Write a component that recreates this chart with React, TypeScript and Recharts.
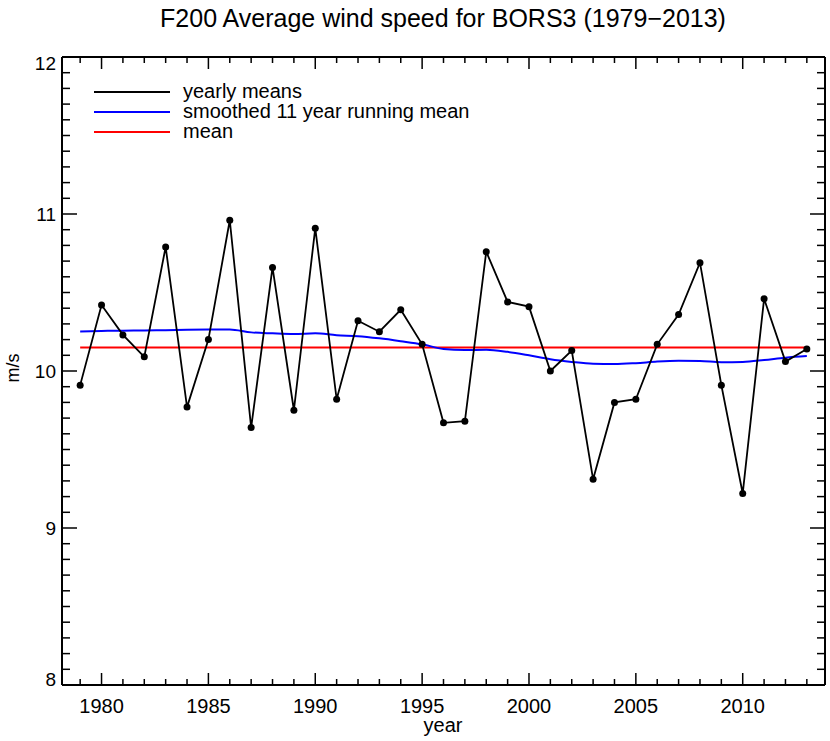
import React from "react"
import { LineChart, Line, XAxis, YAxis } from "recharts"

const years = [
  1979, 1980, 1981, 1982, 1983, 1984, 1985, 1986, 1987, 1988, 1989, 1990, 1991, 1992, 1993, 1994, 1995,
  1996, 1997, 1998, 1999, 2000, 2001, 2002, 2003, 2004, 2005, 2006, 2007, 2008, 2009, 2010, 2011, 2012, 2013,
]

const yearlyMeans = [
  9.91, 10.42, 10.23, 10.09, 10.79, 9.77, 10.2, 10.96, 9.64, 10.66, 9.75, 10.91, 9.82, 10.32, 10.25, 10.39,
  10.17, 9.67, 9.68, 10.76, 10.44, 10.41, 10.0, 10.13, 9.31, 9.8, 9.82, 10.17, 10.36, 10.69, 9.91, 9.22,
  10.46, 10.06, 10.14,
]

const smoothed = [
  10.252, 10.255, 10.257, 10.258, 10.26, 10.262, 10.264, 10.265, 10.246, 10.24, 10.236, 10.24, 10.228,
  10.222, 10.208, 10.19, 10.17, 10.14, 10.133, 10.135, 10.122, 10.1, 10.075, 10.058, 10.046, 10.044, 10.05,
  10.06, 10.065, 10.064, 10.056, 10.058, 10.07, 10.085, 10.095,
]

const overallMean = 10.15

const xMajorTicks = [1980, 1985, 1990, 1995, 2000, 2005, 2010]
const yMajorTicks = [8, 9, 10, 11, 12]

const legendItems = [
  { label: "yearly means", color: "#000000" },
  { label: "smoothed 11 year running mean", color: "#0000ff" },
  { label: "mean", color: "#ff0000" },
]

const data = years.map((year, i) => ({
  year,
  yearly: yearlyMeans[i],
  smoothed: smoothed[i],
  mean: overallMean,
}))

// minor ticks: every year on x, every 0.1 on y
const xTicks = years
const yTicks: number[] = []
for (let i = 0; i <= 40; i++) yTicks.push(Math.round((8 + i * 0.1) * 10) / 10)

const FONT = "'Liberation Sans', Arial, Helvetica, sans-serif"

const isMajorX = (v: number) => xMajorTicks.includes(v)
const isMajorY = (v: number) => yMajorTicks.includes(v)

const BottomTick = ({ x, y, payload }: any) => {
  const major = isMajorX(payload.value)
  return (
    <g>
      <line x1={x} y1={y} x2={x} y2={y - (major ? 12 : 6)} stroke="#000" strokeWidth={1.5} />
      {major && (
        <text x={x} y={y + 28} textAnchor="middle" fontSize={20} fontFamily={FONT} fill="#000">
          {payload.value}
        </text>
      )}
    </g>
  )
}

const TopTick = ({ x, y, payload }: any) => {
  const major = isMajorX(payload.value)
  return <line x1={x} y1={y} x2={x} y2={y + (major ? 12 : 6)} stroke="#000" strokeWidth={1.5} />
}

const LeftTick = ({ x, y, payload }: any) => {
  const v = payload.value
  const major = isMajorY(v)
  // end labels are nudged inside the axis span, like the original
  const dy = v === 12 ? 13 : v === 8 ? 1 : 7
  return (
    <g>
      <line x1={x} y1={y} x2={x + (major ? 15 : 8)} y2={y} stroke="#000" strokeWidth={1.5} />
      {major && (
        <text x={x - 6} y={y + dy} textAnchor="end" fontSize={19} fontFamily={FONT} fill="#000">
          {v}
        </text>
      )}
    </g>
  )
}

const RightTick = ({ x, y, payload }: any) => {
  const major = isMajorY(payload.value)
  return <line x1={x} y1={y} x2={x - (major ? 15 : 8)} y2={y} stroke="#000" strokeWidth={1.5} />
}

export default function App() {
  return (
    <div style={{ position: "absolute", left: 0, top: 0, width: 830, height: 741, background: "#fff" }}>
      <LineChart width={830} height={741} data={data} margin={{ top: 0, right: 0, bottom: 0, left: 0 }}>
        <XAxis
          xAxisId="bottom"
          dataKey="year"
          type="number"
          domain={[1978.15, 2013.85]}
          allowDataOverflow
          ticks={xTicks}
          interval={0}
          height={56}
          tickSize={0}
          tickMargin={0}
          tickLine={false}
          tick={<BottomTick />}
          axisLine={{ stroke: "#000", strokeWidth: 2 }}
        />
        <XAxis
          xAxisId="top"
          orientation="top"
          dataKey="year"
          type="number"
          domain={[1978.15, 2013.85]}
          allowDataOverflow
          ticks={xTicks}
          interval={0}
          height={57}
          tickSize={0}
          tickMargin={0}
          tickLine={false}
          tick={<TopTick />}
          axisLine={{ stroke: "#000", strokeWidth: 2 }}
        />
        <YAxis
          yAxisId="left"
          type="number"
          domain={[8, 12]}
          allowDataOverflow
          ticks={yTicks}
          interval={0}
          width={62}
          tickSize={0}
          tickMargin={0}
          tickLine={false}
          tick={<LeftTick />}
          axisLine={{ stroke: "#000", strokeWidth: 2 }}
        />
        <YAxis
          yAxisId="right"
          orientation="right"
          type="number"
          domain={[8, 12]}
          allowDataOverflow
          ticks={yTicks}
          interval={0}
          width={5}
          tickSize={0}
          tickMargin={0}
          tickLine={false}
          tick={<RightTick />}
          axisLine={{ stroke: "#000", strokeWidth: 2 }}
        />
        <Line
          xAxisId="bottom"
          yAxisId="left"
          dataKey="mean"
          stroke="#ff0000"
          strokeWidth={2}
          dot={false}
          isAnimationActive={false}
        />
        <Line
          xAxisId="bottom"
          yAxisId="left"
          dataKey="smoothed"
          type="monotone"
          stroke="#0000ff"
          strokeWidth={2}
          dot={false}
          isAnimationActive={false}
        />
        <Line
          xAxisId="bottom"
          yAxisId="left"
          dataKey="yearly"
          stroke="#000000"
          strokeWidth={1.8}
          dot={{ r: 3.5, fill: "#000", stroke: "#000", strokeWidth: 0 }}
          isAnimationActive={false}
        />
        <g>
          {legendItems.map((item, i) => (
            <g key={item.label}>
              <line x1={94} y1={92 + i * 20} x2={170} y2={92 + i * 20} stroke={item.color} strokeWidth={2} />
              <text x={183} y={98 + i * 20} fontSize={20} fontFamily={FONT} fill="#000">
                {item.label}
              </text>
            </g>
          ))}
        </g>
        <text x={443} y={27} textAnchor="middle" fontSize={25} fontFamily={FONT} fill="#000">
          F200 Average wind speed for BORS3 (1979−2013)
        </text>
        <text x={443} y={732} textAnchor="middle" fontSize={20} fontFamily={FONT} fill="#000">
          year
        </text>
        <text
          x={19}
          y={368}
          textAnchor="middle"
          fontSize={18}
          fontFamily={FONT}
          fill="#000"
          transform="rotate(-90 19 368)"
        >
          m/s
        </text>
      </LineChart>
    </div>
  )
}
